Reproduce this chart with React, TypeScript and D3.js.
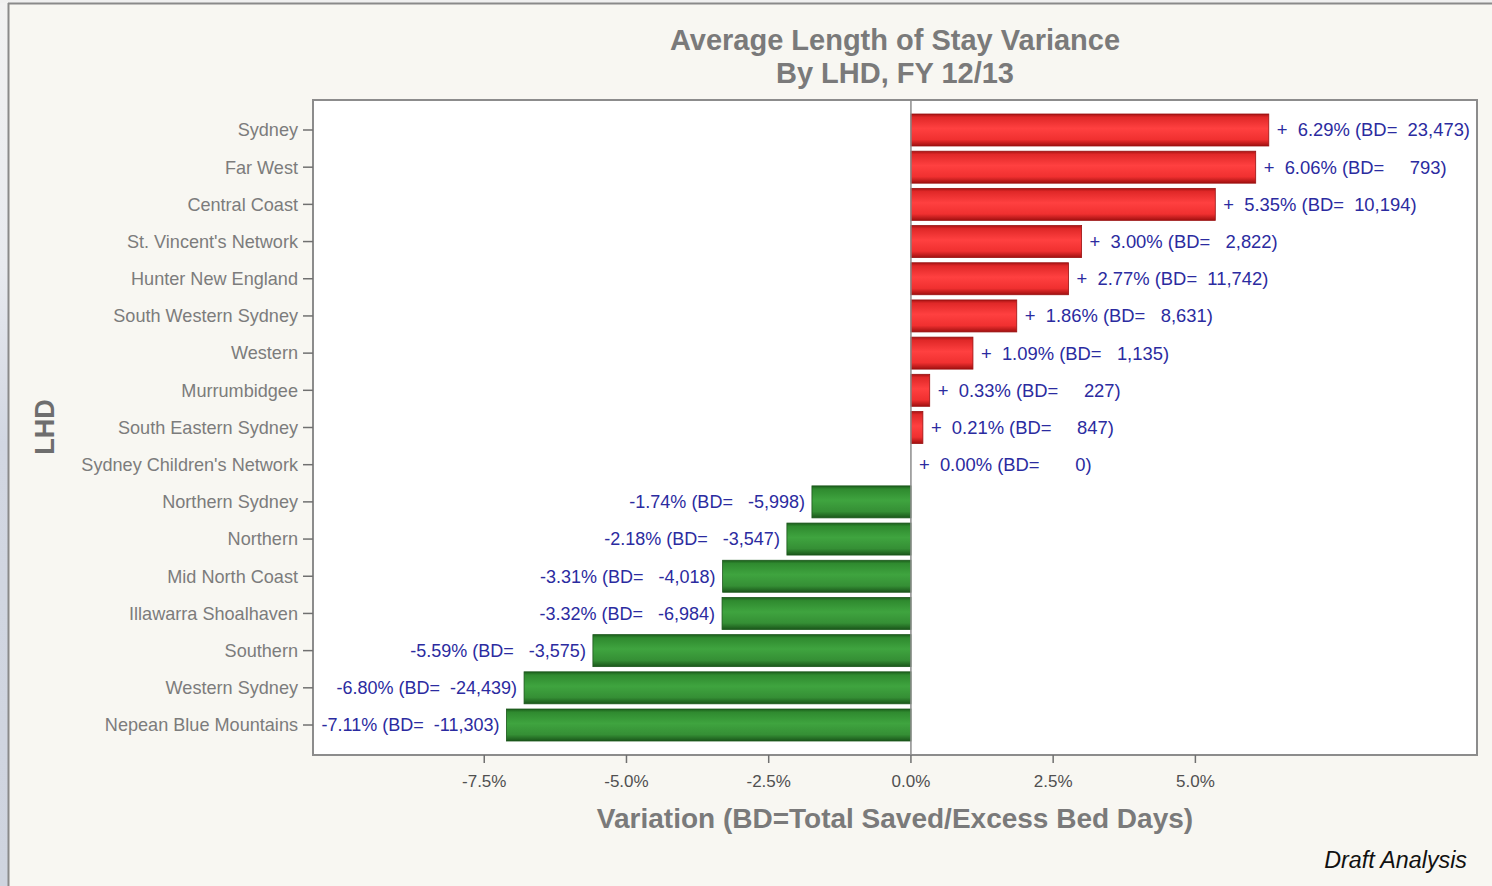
import React from "react";
import * as d3 from "d3";

const categories = [
  "Sydney", "Far West", "Central Coast", "St. Vincent's Network", "Hunter New England",
  "South Western Sydney", "Western", "Murrumbidgee", "South Eastern Sydney",
  "Sydney Children's Network", "Northern Sydney", "Northern", "Mid North Coast",
  "Illawarra Shoalhaven", "Southern", "Western Sydney", "Nepean Blue Mountains",
];
const pctValues = [6.29, 6.06, 5.35, 3.0, 2.77, 1.86, 1.09, 0.33, 0.21, 0.0, -1.74, -2.18, -3.31, -3.32, -5.59, -6.8, -7.11];
const bedDays = [23473, 793, 10194, 2822, 11742, 8631, 1135, 227, 847, 0, -5998, -3547, -4018, -6984, -3575, -24439, -11303];
const xTicks = [-7.5, -5, -2.5, 0, 2.5, 5];

const W = 1492, H = 886;
const plot = { left: 313, top: 100, right: 1477, bottom: 755 };
const FONT = "'Liberation Sans', Arial, Helvetica, sans-serif";

const locale = d3.formatLocale({ decimal: ".", thousands: ",", grouping: [3], currency: ["$", ""], minus: "-" });

export default function App() {
  const x = d3.scaleLinear().domain([-10.51, 9.95]).range([plot.left, plot.right]);
  const y = d3.scaleBand<string>().domain(categories).range([111.4, 743.6]).paddingInner(0.14).paddingOuter(0.07);
  const fmtBD = locale.format(",");
  const fmtTick = (v: number) => locale.format(".1f")(v) + "%";
  const bw = y.bandwidth();

  return (
    <svg width={W} height={H} style={{ position: "absolute", left: 0, top: 0, display: "block" }} fontFamily={FONT}>
      <defs>
        <linearGradient id="gRed" x1="0" y1="0" x2="0" y2="1">
          <stop offset="0" stopColor="#a81414" />
          <stop offset="0.1" stopColor="#e02828" />
          <stop offset="0.45" stopColor="#ff4040" />
          <stop offset="0.8" stopColor="#f03030" />
          <stop offset="1" stopColor="#a01010" />
        </linearGradient>
        <linearGradient id="gGreen" x1="0" y1="0" x2="0" y2="1">
          <stop offset="0" stopColor="#1c5e1c" />
          <stop offset="0.1" stopColor="#2f8a2f" />
          <stop offset="0.45" stopColor="#3fa43f" />
          <stop offset="0.8" stopColor="#358f35" />
          <stop offset="1" stopColor="#1a561a" />
        </linearGradient>
        <linearGradient id="gLeft" x1="0" y1="0" x2="0" y2="1">
          <stop offset="0" stopColor="#f2f2f2" />
          <stop offset="0.3" stopColor="#e8eaef" />
          <stop offset="0.5" stopColor="#d2d7e2" />
          <stop offset="1" stopColor="#cfd4df" />
        </linearGradient>
      </defs>
      <rect x={0} y={0} width={W} height={H} fill="#f8f7f2" />
      <rect x={0} y={0} width={8} height={H} fill="url(#gLeft)" />
      <rect x={0} y={0} width={W} height={3} fill="#f0f0f0" />
      <line x1={8} y1={3.5} x2={W} y2={3.5} stroke="#8a8a8a" strokeWidth={2} />
      <line x1={8.5} y1={3} x2={8.5} y2={H} stroke="#8a8a8a" strokeWidth={2} />

      {/* Title */}
      <text x={895} y={50} textAnchor="middle" fontSize={29} fontWeight="bold" fill="#7a7a7a">Average Length of Stay Variance</text>
      <text x={895} y={83} textAnchor="middle" fontSize={29} fontWeight="bold" fill="#7a7a7a">By LHD, FY 12/13</text>

      {/* Plot area */}
      <rect x={plot.left} y={plot.top} width={plot.right - plot.left} height={plot.bottom - plot.top} fill="#ffffff" stroke="#8c8c8c" strokeWidth={2} />

      {/* Bars */}
      {categories.map((c, i) => {
        const v = pctValues[i];
        if (v === 0) return null;
        const x0 = x(Math.min(0, v));
        const x1 = x(Math.max(0, v));
        return (
          <rect key={c} x={x0} y={y(c)!} width={x1 - x0} height={bw}
            fill={v > 0 ? "url(#gRed)" : "url(#gGreen)"}
            stroke={v > 0 ? "#9a1010" : "#1a561a"} strokeWidth={0.8} />
        );
      })}

      {/* Zero line */}
      <line x1={x(0)} x2={x(0)} y1={plot.top} y2={plot.bottom} stroke="#8c8c8c" strokeWidth={1.5} />

      {/* Value labels */}
      {categories.map((c, i) => {
        const v = pctValues[i];
        const cy = y(c)! + bw / 2;
        if (v >= 0) {
          const num = fmtBD(bedDays[i]).padStart(8, " ");
          const label = "+  " + v.toFixed(2) + "% (BD=" + num + ")";
          return (
            <text key={c} x={x(v) + 8} y={cy} dy="0.35em" fontSize={18.4} fill="#2b2ba0" style={{ whiteSpace: "pre" }}>{label}</text>
          );
        }
        const num = fmtBD(bedDays[i]).padStart(9, " ");
        const label = v.toFixed(2) + "% (BD=" + num + ")";
        return (
          <text key={c} x={x(v) - 7} y={cy} dy="0.35em" textAnchor="end" fontSize={18} fill="#2b2ba0" style={{ whiteSpace: "pre" }}>{label}</text>
        );
      })}

      {/* Y axis ticks and labels */}
      {categories.map((c) => {
        const cy = y(c)! + bw / 2;
        return (
          <g key={c}>
            <line x1={plot.left - 10} x2={plot.left} y1={cy} y2={cy} stroke="#707070" strokeWidth={1.5} />
            <text x={plot.left - 15} y={cy} dy="0.35em" textAnchor="end" fontSize={18.1} fill="#7c7c7c">{c}</text>
          </g>
        );
      })}

      {/* X axis ticks */}
      {xTicks.map((t) => (
        <g key={t}>
          <line x1={x(t)} x2={x(t)} y1={plot.bottom} y2={plot.bottom + 8} stroke="#707070" strokeWidth={1.5} />
          <text x={x(t)} y={787} textAnchor="middle" fontSize={17} fill="#505050">{fmtTick(t)}</text>
        </g>
      ))}

      {/* Axis titles */}
      <text x={895} y={828} textAnchor="middle" fontSize={28} fontWeight="bold" fill="#7a7a7a">Variation (BD=Total Saved/Excess Bed Days)</text>
      <text transform="translate(54,427) rotate(-90)" textAnchor="middle" fontSize={27} fontWeight="bold" fill="#6e6e6e">LHD</text>

      <text x={1467} y={868} textAnchor="end" fontSize={23.3} fontStyle="italic" fill="#111111">Draft Analysis</text>
    </svg>
  );
}
